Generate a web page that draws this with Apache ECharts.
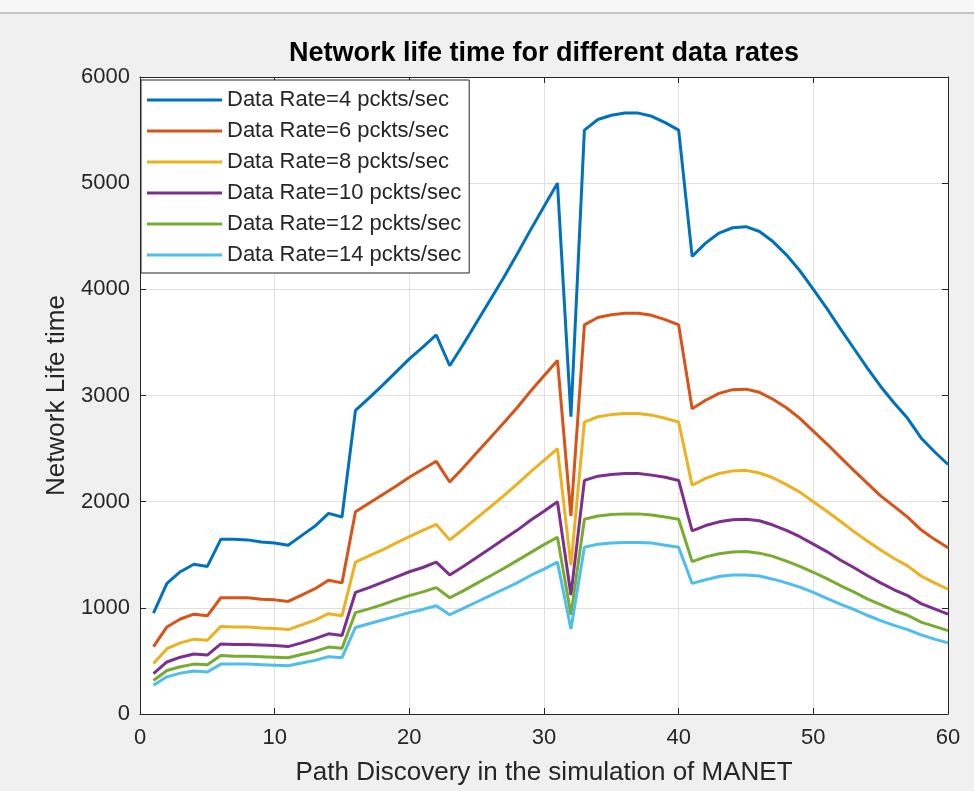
<!DOCTYPE html>
<html>
<head>
<meta charset="utf-8">
<script src="https://cdn.jsdelivr.net/npm/echarts@6/dist/echarts.min.js"></script>
<style>
  html, body { margin: 0; padding: 0; background: #f0f0f0; }
  #chart { width: 974px; height: 791px; }
</style>
</head>
<body>
<div id="chart"></div>
<script>
// path discovery index 1..60
var discovery = [1, 2, 3, 4, 5, 6, 7, 8, 9, 10, 11, 12, 13, 14, 15, 16, 17, 18, 19, 20,
  21, 22, 23, 24, 25, 26, 27, 28, 29, 30, 31, 32, 33, 34, 35, 36, 37, 38, 39, 40,
  41, 42, 43, 44, 45, 46, 47, 48, 49, 50, 51, 52, 53, 54, 55, 56, 57, 58, 59, 60]

var legendNames = ['Data Rate=4 pckts/sec', 'Data Rate=6 pckts/sec', 'Data Rate=8 pckts/sec',
  'Data Rate=10 pckts/sec', 'Data Rate=12 pckts/sec', 'Data Rate=14 pckts/sec']

var rate4 = [950, 1230, 1340, 1410, 1390, 1645, 1645, 1640, 1620, 1610, 1590, 1680, 1770, 1890, 1855,
  2860, 2975, 3095, 3220, 3345, 3455, 3570, 3280, 3480, 3690, 3900, 4110, 4330, 4560, 4780, 5000,
  2800, 5500, 5600, 5640, 5660, 5660, 5630, 5570, 5500,
  4310, 4435, 4530, 4580, 4590, 4545, 4450, 4325, 4175, 4000, 3820, 3630, 3445, 3260, 3085, 2930, 2785, 2600, 2470, 2350]
var rate6 = [635, 820, 895, 940, 925, 1095, 1095, 1095, 1080, 1075, 1060, 1120, 1180, 1260, 1235,
  1905, 1985, 2065, 2145, 2230, 2305, 2380, 2185, 2320, 2460, 2600, 2740, 2885, 3040, 3185, 3330,
  1865, 3665, 3735, 3760, 3775, 3775, 3755, 3715, 3665,
  2875, 2955, 3020, 3055, 3060, 3030, 2965, 2885, 2785, 2665, 2545, 2420, 2295, 2175, 2055, 1955, 1855, 1735, 1645, 1565]
var rate8 = [475, 615, 670, 705, 695, 825, 820, 820, 810, 805, 795, 840, 885, 945, 925,
  1430, 1490, 1545, 1610, 1670, 1730, 1785, 1640, 1740, 1845, 1950, 2055, 2165, 2280, 2390, 2500,
  1400, 2750, 2800, 2820, 2830, 2830, 2815, 2785, 2750,
  2155, 2220, 2265, 2290, 2295, 2270, 2225, 2160, 2090, 2000, 1910, 1815, 1720, 1630, 1545, 1465, 1395, 1300, 1235, 1175]
var rate10 = [380, 490, 535, 565, 555, 660, 655, 655, 650, 645, 635, 670, 710, 755, 740,
  1145, 1190, 1240, 1290, 1340, 1380, 1430, 1310, 1390, 1475, 1560, 1645, 1730, 1825, 1910, 2000,
  1120, 2200, 2240, 2255, 2265, 2265, 2250, 2230, 2200,
  1725, 1775, 1810, 1830, 1835, 1820, 1780, 1730, 1670, 1600, 1530, 1450, 1380, 1305, 1235, 1170, 1115, 1040, 990, 940]
var rate12 = [315, 410, 445, 470, 465, 550, 545, 545, 540, 535, 530, 560, 590, 630, 620,
  955, 990, 1030, 1075, 1115, 1150, 1190, 1095, 1160, 1230, 1300, 1370, 1445, 1520, 1595, 1665,
  935, 1835, 1865, 1880, 1885, 1885, 1875, 1855, 1835,
  1435, 1480, 1510, 1525, 1530, 1515, 1485, 1440, 1390, 1335, 1275, 1210, 1150, 1085, 1030, 975, 930, 865, 825, 785]
var rate14 = [270, 350, 385, 405, 395, 470, 470, 470, 465, 460, 455, 480, 505, 540, 530,
  815, 850, 885, 920, 955, 985, 1020, 935, 995, 1055, 1115, 1175, 1235, 1305, 1365, 1430,
  800, 1570, 1600, 1610, 1615, 1615, 1610, 1590, 1570,
  1230, 1265, 1295, 1310, 1310, 1300, 1270, 1235, 1195, 1145, 1090, 1035, 985, 930, 880, 835, 795, 745, 705, 670]

var colors = ['#0072BD', '#D95319', '#EDB120', '#7E2F8E', '#77AC30', '#4DBEEE']
var seriesValues = [rate4, rate6, rate8, rate10, rate12, rate14]

var font = 'Liberation Sans, Arial, sans-serif'
var ink = '#262626'

function pairs(vals) {
  return discovery.map(function(x, i) { return [x, vals[i]] })
}

var chart = echarts.init(document.getElementById('chart'))
chart.setOption({
  backgroundColor: '#f0f0f0',
  animation: false,
  color: colors,
  title: {
    text: 'Network life time for different data rates',
    left: 539,
    top: 35,
    textAlign: 'center',
    textStyle: { fontFamily: font, fontSize: 27, fontWeight: 'bold', color: '#000' }
  },
  graphic: [
    { type: 'rect', shape: { x: 0, y: 0, width: 974, height: 12 }, style: { fill: '#f7f7f7' } },
    { type: 'line', shape: { x1: 0, y1: 13, x2: 974, y2: 13 }, style: { stroke: '#c4c4c4', lineWidth: 2 } }
  ],
  legend: {
    orient: 'vertical',
    left: 141,
    top: 80,
    data: legendNames,
    icon: 'rect',
    itemWidth: 75,
    itemHeight: 3,
    itemGap: 7,
    padding: [8, 8, 6, 6],
    backgroundColor: '#fff',
    borderColor: ink,
    borderWidth: 1,
    textStyle: { fontFamily: font, fontSize: 22, lineHeight: 24, color: ink }
  },
  grid: {
    left: 140, right: 26, top: 77, bottom: 77,
    outerBoundsMode: 'none',
    show: true, backgroundColor: '#fff', borderWidth: 0
  },
  xAxis: [
    {
      type: 'value', min: 0, max: 60, interval: 10,
      name: 'Path Discovery in the simulation of MANET',
      nameLocation: 'middle', nameGap: 46,
      nameTextStyle: { fontFamily: font, fontSize: 26, color: ink },
      axisLine: { show: true, onZero: false, lineStyle: { color: ink, width: 1 } },
      axisTick: { show: true, inside: true, length: 6, lineStyle: { color: ink } },
      axisLabel: { fontFamily: font, fontSize: 22, color: ink, margin: 13 },
      splitLine: { show: true, lineStyle: { color: '#dfdfdf', width: 1 } }
    },
    {
      type: 'value', min: 0, max: 60, interval: 10, position: 'top',
      axisLine: { show: true, onZero: false, lineStyle: { color: ink, width: 1 } },
      axisTick: { show: true, inside: true, length: 6, lineStyle: { color: ink } },
      axisLabel: { show: false },
      splitLine: { show: false }
    }
  ],
  yAxis: [
    {
      type: 'value', min: 0, max: 6000, interval: 1000,
      name: 'Network Life time',
      nameLocation: 'middle', nameGap: 70,
      nameTextStyle: { fontFamily: font, fontSize: 26, color: ink },
      axisLine: { show: true, onZero: false, lineStyle: { color: ink, width: 1 } },
      axisTick: { show: true, inside: true, length: 6, lineStyle: { color: ink } },
      axisLabel: { fontFamily: font, fontSize: 22, color: ink, margin: 10, formatter: function(v) { return String(v) } },
      splitLine: { show: true, lineStyle: { color: '#dfdfdf', width: 1 } }
    },
    {
      type: 'value', min: 0, max: 6000, interval: 1000, position: 'right',
      axisLine: { show: true, onZero: false, lineStyle: { color: ink, width: 1 } },
      axisTick: { show: true, inside: true, length: 6, lineStyle: { color: ink } },
      axisLabel: { show: false },
      splitLine: { show: false }
    }
  ],
  series: seriesValues.map(function(vals, i) {
    return {
      name: legendNames[i],
      type: 'line',
      data: pairs(vals),
      showSymbol: false,
      lineStyle: { width: 3, color: colors[i] },
      itemStyle: { color: colors[i] }
    }
  })
})
</script>
</body>
</html>
